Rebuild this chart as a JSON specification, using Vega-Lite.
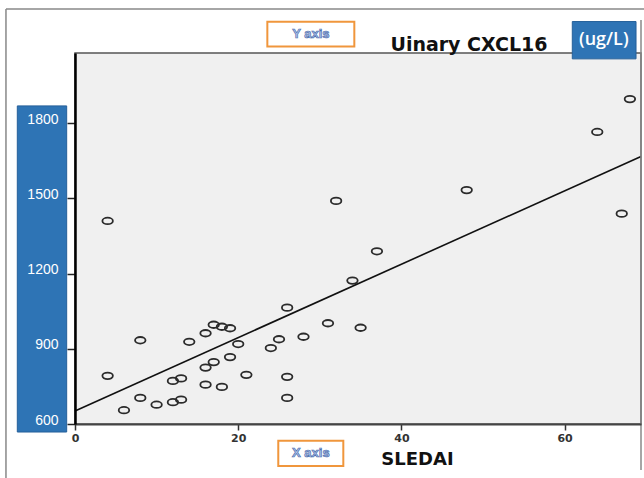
{
  "$schema": "https://vega.github.io/schema/vega-lite/v6.json",
  "width": 566,
  "height": 371,
  "autosize": {"type": "none"},
  "padding": {"left": 75, "top": 53, "right": 3, "bottom": 54},
  "background": "white",
  "config": {
    "view": {"stroke": "#555555", "strokeWidth": 1.5, "fill": "#f0f0f0"}
  },
  "datasets": {
    "pts": [
      {"sledai": 34, "cxcl16": 1172},
      {"sledai": 26, "cxcl16": 1064},
      {"sledai": 31, "cxcl16": 1002},
      {"sledai": 35, "cxcl16": 984},
      {"sledai": 17, "cxcl16": 996},
      {"sledai": 18, "cxcl16": 988},
      {"sledai": 19, "cxcl16": 982},
      {"sledai": 16, "cxcl16": 962},
      {"sledai": 8, "cxcl16": 934},
      {"sledai": 14, "cxcl16": 928},
      {"sledai": 20, "cxcl16": 919},
      {"sledai": 25, "cxcl16": 938},
      {"sledai": 28, "cxcl16": 948},
      {"sledai": 24, "cxcl16": 903},
      {"sledai": 19, "cxcl16": 867},
      {"sledai": 17, "cxcl16": 847},
      {"sledai": 16, "cxcl16": 825},
      {"sledai": 4, "cxcl16": 792},
      {"sledai": 21, "cxcl16": 796},
      {"sledai": 26, "cxcl16": 788},
      {"sledai": 13, "cxcl16": 782},
      {"sledai": 12, "cxcl16": 772},
      {"sledai": 16, "cxcl16": 757},
      {"sledai": 18, "cxcl16": 748},
      {"sledai": 8, "cxcl16": 704},
      {"sledai": 26, "cxcl16": 704},
      {"sledai": 13, "cxcl16": 697},
      {"sledai": 12, "cxcl16": 687},
      {"sledai": 10, "cxcl16": 677},
      {"sledai": 6, "cxcl16": 655},
      {"sledai": 68, "cxcl16": 1896},
      {"sledai": 64, "cxcl16": 1765},
      {"sledai": 48, "cxcl16": 1533},
      {"sledai": 32, "cxcl16": 1490},
      {"sledai": 67, "cxcl16": 1439},
      {"sledai": 37, "cxcl16": 1289},
      {"sledai": 4, "cxcl16": 1410}
    ],
    "fit": [
      {"sledai": 0, "cxcl16": 652},
      {"sledai": 69.36, "cxcl16": 1667}
    ]
  },
  "data": {"values": [{}]},
  "layer": [
    {
      "data": {"name": "pts"},
      "mark": {"type": "point", "shape": "M-1,0A1,0.62,0,1,1,1,0A1,0.62,0,1,1,-1,0Z", "size": 110, "filled": false, "stroke": "#2b2b2b", "strokeWidth": 1.8, "opacity": 1},
      "encoding": {
        "x": {"field": "sledai", "type": "quantitative", "scale": {"domain": [0, 69.36], "nice": false, "zero": false},
          "axis": {"values": [0, 20, 40, 60], "format": "d", "title": null, "grid": false, "domainColor": "#444444", "domainWidth": 2, "tickColor": "#333333", "tickSize": 6, "tickWidth": 1.5, "labelFont": "DejaVu Sans", "labelFontWeight": "bold", "labelFontSize": 11, "labelColor": "#333333", "labelPadding": 2, "labelFlush": false, "zindex": 1}},
        "y": {"field": "cxcl16", "type": "quantitative", "scale": {"domain": [600, 2080], "nice": false, "zero": false},
          "axis": {"values": [600, 900, 1200, 1500, 1800], "format": "d", "title": null, "grid": false, "domainColor": "#000000", "domainWidth": 2.5, "tickColor": "#222222", "tickSize": 8, "tickWidth": 1.5, "labelFont": "Liberation Sans", "labelFontSize": 14, "labelColor": "white", "labelPadding": 9, "labelOffset": -4, "labelFlush": false, "zindex": 1}}
      }
    },
    {
      "data": {"name": "fit"},
      "mark": {"type": "line", "color": "#111111", "strokeWidth": 1.6},
      "encoding": {
        "x": {"field": "sledai", "type": "quantitative", "scale": {"domain": [0, 69.36], "nice": false, "zero": false}},
        "y": {"field": "cxcl16", "type": "quantitative", "scale": {"domain": [600, 2080], "nice": false, "zero": false}}
      }
    },
    {
      "mark": {"type": "rect", "fill": "#2e74b5", "stroke": "#25609a", "strokeWidth": 1},
      "encoding": {
        "x": {"datum": -7.07, "type": "quantitative", "scale": {"domain": [0, 69.36], "nice": false, "zero": false}},
        "x2": {"datum": -1.02},
        "y": {"datum": 1869, "type": "quantitative", "scale": {"domain": [600, 2080], "nice": false, "zero": false}},
        "y2": {"datum": 568}
      }
    },
    {
      "mark": {"type": "rect", "fill": "#2e74b5", "stroke": "#25609a", "strokeWidth": 1},
      "encoding": {
        "x": {"datum": 60.94, "type": "quantitative", "scale": {"domain": [0, 69.36], "nice": false, "zero": false}},
        "x2": {"datum": 68.75},
        "y": {"datum": 2205.5, "type": "quantitative", "scale": {"domain": [600, 2080], "nice": false, "zero": false}},
        "y2": {"datum": 2056.6}
      }
    },
    {
      "mark": {"type": "text", "text": "(ug/L)", "font": "Open Sans", "fontWeight": 600, "fontSize": 18, "color": "white", "align": "center", "baseline": "middle"},
      "encoding": {
        "x": {"datum": 64.8, "type": "quantitative", "scale": {"domain": [0, 69.36], "nice": false, "zero": false}},
        "y": {"datum": 2132, "type": "quantitative", "scale": {"domain": [600, 2080], "nice": false, "zero": false}}
      }
    },
    {
      "mark": {"type": "rect", "fill": "white", "stroke": "#f0963c", "strokeWidth": 2},
      "encoding": {
        "x": {"datum": 23.57, "type": "quantitative", "scale": {"domain": [0, 69.36], "nice": false, "zero": false}},
        "x2": {"datum": 34.23},
        "y": {"datum": 2204.3, "type": "quantitative", "scale": {"domain": [600, 2080], "nice": false, "zero": false}},
        "y2": {"datum": 2105.7}
      }
    },
    {
      "mark": {"type": "text", "text": "Y axis", "font": "Liberation Sans", "fontWeight": "bold", "fontSize": 13, "fill": "#b4c9ee", "stroke": "#4f6fae", "strokeWidth": 0.7, "align": "center", "baseline": "middle"},
      "encoding": {
        "x": {"datum": 28.9, "type": "quantitative", "scale": {"domain": [0, 69.36], "nice": false, "zero": false}},
        "y": {"datum": 2155, "type": "quantitative", "scale": {"domain": [600, 2080], "nice": false, "zero": false}}
      }
    },
    {
      "mark": {"type": "rect", "fill": "white", "stroke": "#f0963c", "strokeWidth": 2},
      "encoding": {
        "x": {"datum": 24.91, "type": "quantitative", "scale": {"domain": [0, 69.36], "nice": false, "zero": false}},
        "x2": {"datum": 32.88},
        "y": {"datum": 533.4, "type": "quantitative", "scale": {"domain": [600, 2080], "nice": false, "zero": false}},
        "y2": {"datum": 432.4}
      }
    },
    {
      "mark": {"type": "text", "text": "X axis", "font": "Liberation Sans", "fontWeight": "bold", "fontSize": 13, "fill": "#b4c9ee", "stroke": "#4f6fae", "strokeWidth": 0.7, "align": "center", "baseline": "middle"},
      "encoding": {
        "x": {"datum": 28.9, "type": "quantitative", "scale": {"domain": [0, 69.36], "nice": false, "zero": false}},
        "y": {"datum": 483, "type": "quantitative", "scale": {"domain": [600, 2080], "nice": false, "zero": false}}
      }
    },
    {
      "mark": {"type": "text", "text": "Uinary CXCL16", "font": "DejaVu Sans", "fontWeight": "bold", "fontSize": 19, "color": "#111111", "align": "center", "baseline": "alphabetic"},
      "encoding": {
        "x": {"datum": 48.28, "type": "quantitative", "scale": {"domain": [0, 69.36], "nice": false, "zero": false}},
        "y": {"datum": 2088.5, "type": "quantitative", "scale": {"domain": [600, 2080], "nice": false, "zero": false}}
      }
    },
    {
      "mark": {"type": "text", "text": "SLEDAI", "font": "DejaVu Sans", "fontWeight": "bold", "fontSize": 18, "color": "#111111", "align": "center", "baseline": "alphabetic"},
      "encoding": {
        "x": {"datum": 41.97, "type": "quantitative", "scale": {"domain": [0, 69.36], "nice": false, "zero": false}},
        "y": {"datum": 436.4, "type": "quantitative", "scale": {"domain": [600, 2080], "nice": false, "zero": false}}
      }
    },
    {
      "mark": {"type": "rule", "color": "#888888", "strokeWidth": 1.5},
      "encoding": {
        "x": {"datum": -8.46, "type": "quantitative", "scale": {"domain": [0, 69.36], "nice": false, "zero": false}},
        "y": {"datum": 2256, "type": "quantitative", "scale": {"domain": [600, 2080], "nice": false, "zero": false}},
        "y2": {"datum": 384}
      }
    },
    {
      "mark": {"type": "rule", "color": "#888888", "strokeWidth": 1.5},
      "encoding": {
        "x": {"datum": -8.46, "type": "quantitative", "scale": {"domain": [0, 69.36], "nice": false, "zero": false}},
        "x2": {"datum": 69.73},
        "y": {"datum": 2256, "type": "quantitative", "scale": {"domain": [600, 2080], "nice": false, "zero": false}}
      }
    },
    {
      "mark": {"type": "rule", "color": "#888888", "strokeWidth": 1.5},
      "encoding": {
        "x": {"datum": 69.36, "type": "quantitative", "scale": {"domain": [0, 69.36], "nice": false, "zero": false}},
        "y": {"datum": 2212, "type": "quantitative", "scale": {"domain": [600, 2080], "nice": false, "zero": false}},
        "y2": {"datum": 416}
      }
    }
  ]
}
